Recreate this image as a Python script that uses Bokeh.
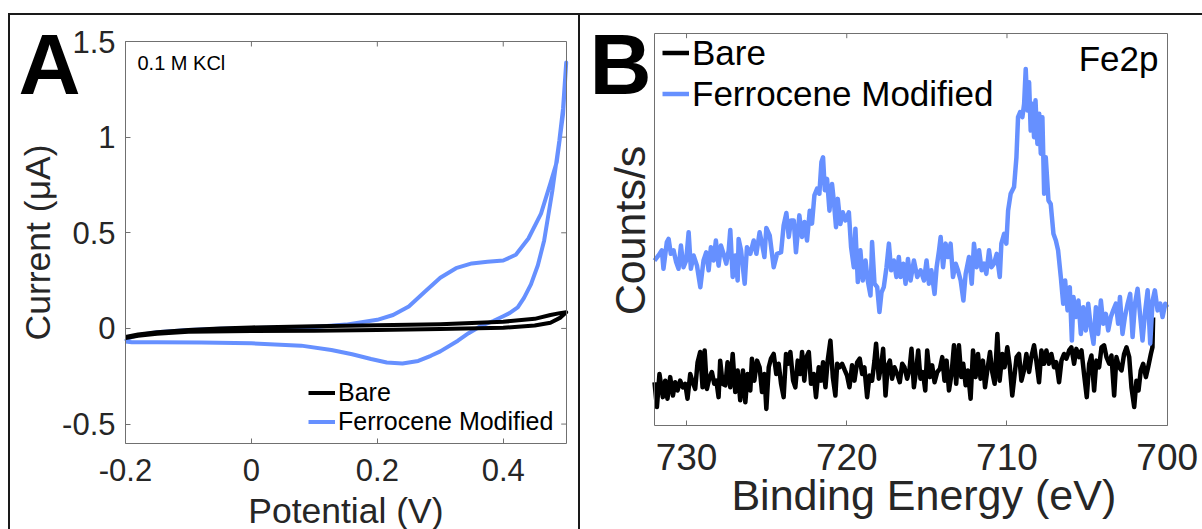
import math
from bokeh.plotting import figure
from bokeh.models import (Range1d, LinearAxis, FixedTicker, PrintfTickFormatter,
                          Label, Legend, LegendItem, Div)
from bokeh.layouts import row, column
from bokeh.embed import file_html
from bokeh.resources import INLINE

FONT = "Liberation Sans"
BLUE = "#6690ff"
AXC = "#707070"
TXT = "#262626"

# ---------------- Panel A: cyclic voltammetry ----------------
cv_xlim = (-0.2, 0.5)
cv_ylim = (-0.6, 1.5)
cv_xticks = [-0.2, 0.0, 0.2, 0.4]
cv_yticks = [-0.5, 0.0, 0.5, 1.0, 1.5]

bare_fwd_v = [-0.2, -0.18, -0.15, -0.1, -0.05, 0.0, 0.1, 0.2, 0.3, 0.4, 0.45, 0.475, 0.49, 0.5]
bare_fwd_i = [-0.045, -0.032, -0.02, -0.008, 0.0, 0.005, 0.012, 0.016, 0.022, 0.035, 0.05, 0.07, 0.08, 0.085]
bare_rev_v = [0.5, 0.49, 0.475, 0.45, 0.4, 0.3, 0.2, 0.1, 0.0, -0.1, -0.15, -0.18, -0.2]
bare_rev_i = [0.085, 0.055, 0.03, 0.015, 0.003, -0.003, -0.008, -0.012, -0.014, -0.018, -0.028, -0.038, -0.05]

fc_fwd_v = [-0.2, -0.195, -0.18, -0.15, -0.1, -0.05, 0.0, 0.05, 0.1, 0.15, 0.2, 0.225, 0.25,
            0.275, 0.3, 0.325, 0.35, 0.375, 0.4, 0.42, 0.44, 0.46, 0.475, 0.485, 0.495, 0.5]
fc_fwd_i = [-0.068, -0.05, -0.035, -0.02, -0.008, -0.002, 0.002, 0.005, 0.008, 0.02, 0.045, 0.07, 0.115,
            0.19, 0.265, 0.315, 0.34, 0.348, 0.355, 0.385, 0.47, 0.6, 0.76, 0.87, 1.12, 1.39]
fc_rev_v = [0.5, 0.495, 0.489, 0.478, 0.465, 0.455, 0.444, 0.433, 0.423, 0.41, 0.4, 0.385, 0.365,
            0.345, 0.328, 0.3, 0.285, 0.265, 0.24, 0.215, 0.19, 0.16, 0.127, 0.079, 0.0, -0.08,
            -0.15, -0.19, -0.2]
fc_rev_i = [1.39, 1.15, 0.98, 0.72, 0.46, 0.33, 0.23, 0.16, 0.11, 0.08, 0.064, 0.04, 0.014,
            -0.025, -0.064, -0.12, -0.143, -0.17, -0.183, -0.178, -0.16, -0.135, -0.113, -0.09, -0.078, -0.073,
            -0.072, -0.072, -0.068]

# ---------------- Panel B: XPS Fe2p ----------------
xps_xlim = (732, 700)
xps_ylim = (0, 100)
xps_xticks = [730, 720, 710, 700]

# (binding energy eV, counts/s in arbitrary units)
xps_ferrocene = [
    (732.0, 42.1), (731.75, 43.4), (731.54, 44.7), (731.44, 40.0), (731.23, 46.8), (731.12, 47.6),
    (730.98, 43.8), (730.81, 44.7), (730.65, 41.7), (730.5, 40.0), (730.35, 45.9), (730.19, 40.4),
    (730.02, 42.1), (729.87, 49.3), (729.73, 40.0), (729.56, 43.4), (729.35, 40.8), (729.14, 35.3),
    (728.94, 42.1), (728.77, 44.2), (728.62, 39.6), (728.48, 45.5), (728.31, 42.1), (728.17, 47.2),
    (728.0, 40.8), (727.85, 45.9), (727.69, 43.8), (727.52, 41.3), (727.37, 44.7), (727.27, 49.9),
    (727.12, 37.9), (726.96, 43.4), (726.81, 37.0), (726.75, 47.6), (726.6, 44.7), (726.37, 36.2),
    (726.23, 45.5), (726.02, 43.8), (725.81, 47.2), (725.64, 43.8), (725.44, 49.3), (725.29, 46.4),
    (725.14, 43.0), (725.02, 50.4), (724.81, 48.5), (724.56, 40.4), (724.35, 43.8), (724.1, 44.2),
    (723.94, 51.0), (723.77, 54.2), (723.62, 48.1), (723.48, 52.3), (723.31, 52.3), (723.17, 44.2),
    (722.96, 53.6), (722.79, 48.1), (722.64, 51.9), (722.48, 47.2), (722.31, 54.8), (722.17, 51.5),
    (722.02, 58.7), (721.85, 60.4), (721.71, 59.1), (721.58, 67.2), (721.48, 68.4), (721.37, 60.0),
    (721.23, 62.9), (721.08, 54.8), (720.92, 61.6), (720.81, 57.4), (720.67, 50.6), (720.56, 57.8),
    (720.4, 51.4), (720.25, 54.4), (720.08, 52.3), (719.87, 54.4), (719.73, 45.5), (719.56, 40.4),
    (719.46, 50.2), (719.31, 36.6), (719.15, 44.7), (719.0, 37.0), (718.83, 42.1), (718.69, 37.0),
    (718.52, 33.2), (718.42, 46.8), (718.27, 36.2), (718.1, 35.3), (717.96, 29.0), (717.83, 34.0),
    (717.69, 35.3), (717.52, 40.4), (717.37, 46.4), (717.23, 39.6), (717.06, 42.1), (716.9, 37.9),
    (716.75, 43.0), (716.64, 37.9), (716.47, 41.3), (716.33, 36.2), (716.18, 42.5), (716.02, 37.0),
    (715.81, 42.1), (715.6, 37.9), (715.39, 39.6), (715.18, 37.0), (715.02, 42.1), (714.87, 36.2),
    (714.72, 39.6), (714.52, 33.6), (714.39, 40.4), (714.24, 44.7), (714.14, 48.1), (713.99, 40.4),
    (713.83, 46.4), (713.68, 43.0), (713.52, 46.4), (713.37, 37.9), (713.2, 41.3), (713.06, 39.6),
    (712.89, 37.0), (712.72, 31.9), (712.58, 38.7), (712.37, 43.0), (712.2, 36.2), (712.06, 46.4),
    (711.89, 40.4), (711.74, 44.7), (711.58, 39.6), (711.43, 41.3), (711.29, 38.7), (711.12, 44.7),
    (710.97, 40.4), (710.81, 41.3), (710.64, 43.8), (710.45, 37.9), (710.35, 46.4), (710.18, 48.9),
    (710.04, 46.4), (709.93, 54.8), (709.77, 59.1), (709.56, 60.8), (709.41, 68.4), (709.31, 78.6),
    (709.18, 79.9), (709.04, 78.6), (708.93, 82.0), (708.83, 90.9), (708.72, 80.3), (708.62, 87.5),
    (708.52, 75.2), (708.41, 82.0), (708.31, 73.5), (708.22, 82.9), (708.1, 71.8), (707.99, 79.5),
    (707.89, 69.3), (707.79, 78.6), (707.68, 59.1), (707.58, 68.4), (707.41, 57.4), (707.27, 56.5),
    (707.1, 48.9), (706.95, 47.2), (706.81, 44.7), (706.64, 37.9), (706.49, 31.1), (706.37, 37.0),
    (706.22, 29.4), (706.08, 35.3), (705.95, 21.7), (705.85, 32.8), (705.7, 27.7), (705.54, 31.9),
    (705.39, 23.4), (705.24, 30.2), (705.08, 24.3), (704.93, 31.1), (704.77, 25.1), (704.6, 20.9),
    (704.45, 30.2), (704.31, 23.4), (704.14, 31.9), (703.99, 26.0), (703.83, 28.5), (703.68, 24.3),
    (703.52, 27.7), (703.37, 29.4), (703.2, 31.1), (703.06, 26.0), (702.95, 32.8), (702.79, 23.4),
    (702.64, 27.7), (702.47, 31.1), (702.31, 33.6), (702.16, 22.6), (702.01, 31.1), (701.85, 34.9),
    (701.68, 27.7), (701.54, 21.7), (701.37, 29.4), (701.22, 34.5), (701.06, 20.9), (700.91, 31.9),
    (700.77, 34.5), (700.6, 29.4), (700.43, 31.1), (700.29, 27.7), (700.12, 31.1), (700.0, 30.2),
]

xps_bare = [
    (732.0, 11.1), (731.85, 4.8), (731.69, 13.2), (731.48, 7.3), (731.33, 11.5), (731.19, 6.9),
    (731.02, 12.4), (730.85, 7.7), (730.71, 11.1), (730.56, 9.0), (730.4, 11.5), (730.23, 9.8),
    (730.08, 10.7), (729.94, 6.9), (729.77, 13.2), (729.62, 11.1), (729.46, 9.4), (729.31, 16.2),
    (729.15, 18.8), (729.0, 9.8), (728.87, 19.2), (728.73, 9.4), (728.56, 12.4), (728.42, 13.7),
    (728.27, 10.7), (728.14, 11.5), (728.0, 7.3), (727.9, 16.6), (727.75, 10.7), (727.58, 10.3),
    (727.44, 16.2), (727.27, 9.8), (727.12, 18.3), (726.96, 8.6), (726.81, 14.1), (726.65, 6.5),
    (726.48, 14.1), (726.33, 6.0), (726.19, 13.2), (726.02, 9.0), (725.92, 17.1), (725.77, 11.5),
    (725.6, 16.6), (725.44, 14.9), (725.29, 8.6), (725.14, 13.2), (725.02, 4.3), (724.87, 14.9),
    (724.73, 17.1), (724.56, 18.3), (724.4, 13.2), (724.25, 15.8), (724.1, 10.7), (723.94, 7.3),
    (723.79, 18.3), (723.67, 15.8), (723.52, 18.8), (723.35, 11.5), (723.21, 9.8), (723.06, 16.6),
    (722.9, 13.2), (722.79, 18.8), (722.65, 11.5), (722.52, 17.5), (722.37, 18.8), (722.23, 10.7),
    (722.06, 13.2), (721.92, 7.3), (721.75, 14.9), (721.6, 11.5), (721.48, 16.2), (721.33, 9.8),
    (721.19, 16.6), (721.02, 21.7), (720.87, 12.4), (720.71, 7.7), (720.6, 15.8), (720.46, 14.9),
    (720.29, 15.8), (720.12, 14.1), (719.98, 12.8), (719.83, 9.8), (719.67, 15.4), (719.52, 11.5),
    (719.35, 16.2), (719.19, 17.1), (719.04, 13.2), (718.9, 14.9), (718.73, 7.3), (718.58, 12.8),
    (718.42, 11.5), (718.27, 16.6), (718.17, 20.9), (718.0, 12.0), (717.85, 15.4), (717.73, 19.6),
    (717.58, 7.7), (717.44, 15.4), (717.31, 16.6), (717.17, 12.0), (717.02, 14.9), (716.85, 13.2),
    (716.69, 11.1), (716.54, 15.8), (716.4, 14.9), (716.23, 12.0), (716.08, 14.5), (715.96, 19.6),
    (715.81, 9.8), (715.67, 14.1), (715.54, 19.2), (715.4, 12.0), (715.25, 13.7), (715.1, 9.0),
    (714.98, 19.2), (714.81, 12.4), (714.67, 15.4), (714.52, 11.1), (714.35, 13.7), (714.19, 14.5),
    (714.04, 17.5), (713.9, 11.5), (713.77, 16.6), (713.62, 9.0), (713.46, 13.2), (713.31, 20.5),
    (713.17, 10.7), (713.0, 20.5), (712.85, 12.4), (712.73, 15.8), (712.58, 10.3), (712.44, 14.1),
    (712.27, 6.9), (712.12, 19.2), (711.96, 12.4), (711.81, 18.3), (711.65, 12.0), (711.5, 16.6),
    (711.37, 9.8), (711.23, 14.1), (711.06, 18.8), (710.92, 13.7), (710.77, 10.7), (710.6, 23.4),
    (710.46, 11.5), (710.29, 18.3), (710.15, 14.9), (709.98, 20.0), (709.83, 15.4), (709.67, 7.7),
    (709.52, 13.2), (709.4, 17.5), (709.25, 18.3), (709.1, 11.5), (708.94, 14.1), (708.79, 18.3),
    (708.62, 13.7), (708.48, 17.5), (708.31, 20.5), (708.17, 16.6), (708.0, 11.1), (707.85, 19.2),
    (707.69, 15.8), (707.54, 19.2), (707.38, 15.8), (707.23, 18.3), (707.06, 14.9), (706.92, 16.2),
    (706.75, 11.1), (706.6, 16.6), (706.44, 18.3), (706.29, 17.1), (706.12, 19.2), (705.98, 20.0),
    (705.81, 15.8), (705.67, 19.6), (705.5, 17.5), (705.35, 19.2), (705.19, 13.2), (705.02, 7.3),
    (704.87, 15.8), (704.73, 17.9), (704.56, 9.0), (704.42, 16.6), (704.25, 14.9), (704.1, 20.0),
    (703.94, 20.5), (703.79, 17.5), (703.62, 15.8), (703.48, 17.9), (703.31, 7.7), (703.17, 17.5),
    (703.0, 14.9), (702.85, 14.1), (702.69, 18.3), (702.54, 20.0), (702.37, 17.5), (702.23, 9.8),
    (702.06, 4.8), (701.92, 11.5), (701.79, 9.0), (701.65, 14.1), (701.5, 15.8), (701.33, 12.4),
    (701.19, 14.9), (701.02, 18.3), (700.92, 20.0), (700.88, 27.6),
]


# ---------------- helpers ----------------
def style_axis(ax, tick_px, standoff):
    ax.axis_line_color = AXC
    ax.axis_line_width = 1
    ax.major_tick_line_color = AXC
    ax.major_tick_in = 5
    ax.major_tick_out = 0
    ax.minor_tick_line_color = None
    ax.major_label_text_font = FONT
    ax.major_label_text_font_size = f"{tick_px}px"
    ax.major_label_text_color = TXT
    ax.major_label_standoff = standoff


def bare_axis(loc, bounds):
    ax = LinearAxis(ticker=FixedTicker(ticks=[]), fixed_location=loc, bounds=bounds)
    style_axis(ax, 10, 0)
    return ax


class Mapper:
    """Maps canvas pixels to data for a canvas whose frame fills it entirely."""

    def __init__(self, w, h, frame, xlim, ylim):
        fl, fr, ft, fb = frame  # pixel positions of the axes box inside the canvas
        self.sx = (fr - fl) / (xlim[1] - xlim[0])
        self.sy = (fb - ft) / (ylim[1] - ylim[0])
        self.x0 = xlim[0] - fl / self.sx
        self.x1 = xlim[0] + (w - fl) / self.sx
        self.y1 = ylim[1] + ft / self.sy
        self.y0 = ylim[1] - (h - ft) / self.sy

    def x(self, px):
        return self.x0 + px / self.sx

    def y(self, py):
        return self.y1 - py / self.sy


def text_label(m, px, py, text, size, **kw):
    # (px, py): canvas position of the text's left/centre/right edge and vertical middle
    opts = dict(text_font=FONT, text_font_size=f"{size}px", text_color="black",
                text_baseline="middle", text_align="left")
    opts.update(kw)
    return Label(x=m.x(px), y=m.y(py), text=text, **opts)


# ---------------- Figure A ----------------
A_W, A_H = 568, 514
mA = Mapper(A_W, A_H, (115, 555.7, 26, 427.7), cv_xlim, cv_ylim)

pA = figure(width=A_W, height=A_H, x_range=Range1d(mA.x0, mA.x1), y_range=Range1d(mA.y0, mA.y1),
            output_backend="svg", toolbar_location=None, title=None, min_border=0)
pA.grid.visible = False
pA.outline_line_color = None
pA.border_fill_color = "white"

xa = pA.xaxis[0]
xa.ticker = FixedTicker(ticks=cv_xticks)
xa.formatter = PrintfTickFormatter(format="%g")
xa.fixed_location = cv_ylim[0]
xa.bounds = cv_xlim
style_axis(xa, 31, 16)
ya = pA.yaxis[0]
ya.ticker = FixedTicker(ticks=cv_yticks)
ya.formatter = PrintfTickFormatter(format="%g")
ya.fixed_location = cv_xlim[0]
ya.bounds = cv_ylim
style_axis(ya, 31, 10)
pA.add_layout(bare_axis(cv_ylim[1], cv_xlim), "above")
pA.add_layout(bare_axis(cv_xlim[1], cv_ylim), "right")
# mirrored inward ticks on top and right edges (5 px long)
pA.segment(x0=cv_xticks, y0=[cv_ylim[1]] * len(cv_xticks), x1=cv_xticks,
           y1=[cv_ylim[1] - 5 / mA.sy] * len(cv_xticks), line_color=AXC, line_width=1)
pA.segment(x0=[cv_xlim[1]] * len(cv_yticks), y0=cv_yticks, x1=[cv_xlim[1] - 5 / mA.sx] * len(cv_yticks),
           y1=cv_yticks, line_color=AXC, line_width=1)

rf = pA.line(fc_fwd_v + fc_rev_v[1:], fc_fwd_i + fc_rev_i[1:], line_color=BLUE, line_width=4,
             line_join="round")
rb = pA.line(bare_fwd_v + bare_rev_v[1:], bare_fwd_i + bare_rev_i[1:], line_color="black",
             line_width=4, line_join="round")

legA = Legend(items=[LegendItem(label="Bare", renderers=[rb]),
                     LegendItem(label="Ferrocene Modified", renderers=[rf])],
              location=(298, 93), label_text_font=FONT, label_text_font_size="25px",
              label_text_color="black", glyph_width=27, glyph_height=29, label_height=29,
              label_standoff=3, spacing=0, padding=0, margin=0,
              border_line_color=None, background_fill_alpha=0)
pA.add_layout(legA)

pA.add_layout(text_label(mA, 8, 48, "A", 86, text_font_style="bold"))
pA.add_layout(text_label(mA, 127, 47, "0.1 M KCl", 20))
pA.add_layout(text_label(mA, 335.4, 495, "Potential (V)", 35.5, text_align="center", text_color=TXT))
pA.add_layout(text_label(mA, 27.5, 226.9, "Current (μA)", 35.5, text_align="center", text_color=TXT,
                         angle=math.pi / 2))

# ---------------- Figure B ----------------
fc_be = [p[0] for p in xps_ferrocene]
fc_cnt = [p[1] for p in xps_ferrocene]
bare_be = [p[0] for p in xps_bare]
bare_cnt = [p[1] for p in xps_bare]

B_W, B_H = 622, 514
mB = Mapper(B_W, B_H, (74, 586.7, 17.7, 410.3), xps_xlim, xps_ylim)

pB = figure(width=B_W, height=B_H, x_range=Range1d(mB.x0, mB.x1), y_range=Range1d(mB.y0, mB.y1),
            output_backend="svg", toolbar_location=None, title=None, min_border=0)
pB.grid.visible = False
pB.outline_line_color = None
pB.border_fill_color = "white"

xb = pB.xaxis[0]
xb.ticker = FixedTicker(ticks=xps_xticks)
xb.formatter = PrintfTickFormatter(format="%g")
xb.fixed_location = xps_ylim[0]
xb.bounds = (min(xps_xlim), max(xps_xlim))
style_axis(xb, 37, 18)
yb = pB.yaxis[0]
yb.ticker = FixedTicker(ticks=[])
yb.fixed_location = xps_xlim[0]
yb.bounds = xps_ylim
style_axis(yb, 10, 0)
pB.add_layout(bare_axis(xps_ylim[1], (min(xps_xlim), max(xps_xlim))), "above")
pB.add_layout(bare_axis(xps_xlim[1], xps_ylim), "right")
top_ticks_b = xps_xticks[:-1]
pB.segment(x0=top_ticks_b, y0=[xps_ylim[1]] * len(top_ticks_b), x1=top_ticks_b,
           y1=[xps_ylim[1] - 5 / mB.sy] * len(top_ticks_b), line_color=AXC, line_width=1)

rbB = pB.line(bare_be, bare_cnt, line_color="black", line_width=4.5, line_join="round")
rfB = pB.line(fc_be, fc_cnt, line_color=BLUE, line_width=4.5, line_join="round")

legB = Legend(items=[LegendItem(label="Bare", renderers=[rbB]),
                     LegendItem(label="Ferrocene Modified", renderers=[rfB])],
              location=(82, 415), label_text_font=FONT, label_text_font_size="35px",
              label_text_color="black", glyph_width=27, glyph_height=41, label_height=41,
              label_standoff=3, spacing=0, padding=0, margin=0,
              border_line_color=None, background_fill_alpha=0)
pB.add_layout(legB)

pB.add_layout(text_label(mB, 9, 48, "B", 86, text_font_style="bold"))
pB.add_layout(text_label(mB, 578, 43.3, "Fe2p", 35, text_align="right"))
pB.add_layout(text_label(mB, 343.3, 479, "Binding Energy (eV)", 43, text_align="center", text_color=TXT))
pB.add_layout(text_label(mB, 49.5, 215, "Counts/s", 43, text_align="center", text_color=TXT,
                         angle=math.pi / 2))

# ---------------- frame lines & layout (page has no margin) ----------------
LINE = "#1a1a1a"


def block(w, h, color=None):
    st = {"background-color": color} if color else {}
    return Div(width=w, height=h, margin=0, styles=st)


layout = column(
    block(1202, 13),
    row(block(8, 2), block(1194, 2, LINE), spacing=0),
    row(block(8, 514), block(2, 514, LINE), pA, block(2, 514, LINE), pB, spacing=0),
    spacing=0,
)

open("out.html", "w").write(file_html(layout, INLINE))
